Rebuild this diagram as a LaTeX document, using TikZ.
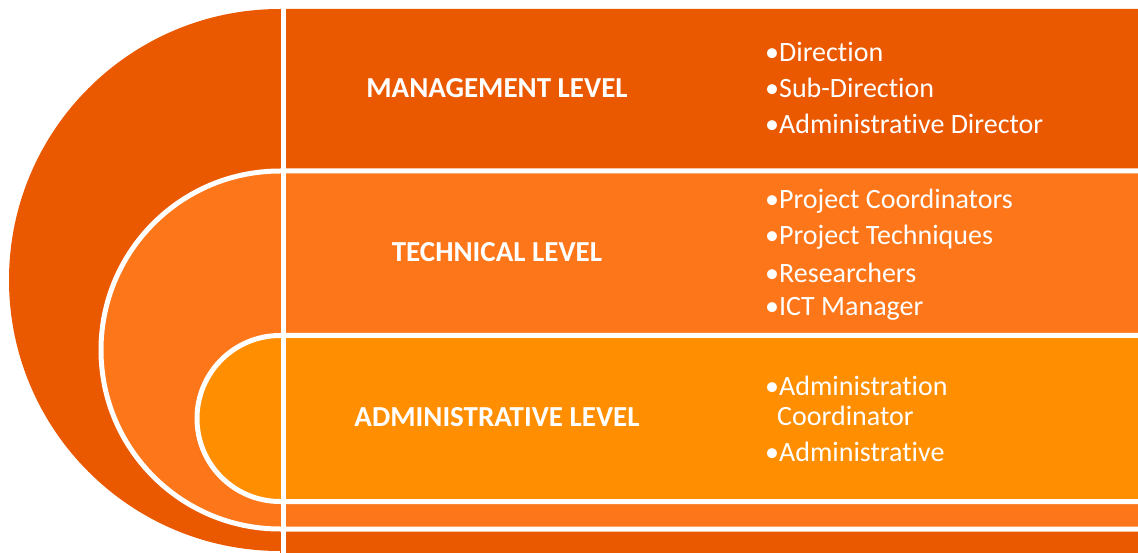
\documentclass[tikz,border=0pt]{standalone}
\usepackage{fontspec}
\setmainfont{Carlito}[Ligatures={NoCommon,NoRare,NoContextual}, RawFeature={-liga;-dlig;-calt}]
\usepackage{tikz}
\usepackage{xcolor}
\definecolor{lvldark}{HTML}{EA5800}
\definecolor{lvlmid}{HTML}{FD761A}
\definecolor{lvllight}{HTML}{FF8E00}

\begin{document}
\begin{tikzpicture}[x=1pt, y=1pt,
  title/.style={font=\fontsize{29}{34}\selectfont\bfseries, text=white},
  item/.style={font=\fontsize{28}{34}\selectfont, text=white, anchor=west, inner sep=0pt},
  band/.style={draw=white, line width=5pt}]
  \useasboundingbox (0,0) rectangle (1138,552);
  \clip (0,0) rectangle (1138,552);
  % the three nested levels
  \fill[lvldark] (1140,543) -- (280,543) arc[start angle=90, end angle=270, radius=271] -- (280,-2) -- (1140,-2) -- cycle;
  \filldraw[lvlmid, band] (1145,381) -- (280,381) arc[start angle=90, end angle=270, radius=179] -- (1145,23) -- cycle;
  \filldraw[lvllight, band] (1145,216.5) -- (280,216.5) arc[start angle=90, end angle=270, radius=83] -- (1145,50.5) -- cycle;
  \draw[white, line width=5pt] (283,-2) -- (283,552);
  % level names
  \node[title] (mgmt) at (497,464) {MANAGEMENT LEVEL};
  \node[title] (tech) at (497,300) {TECHNICAL LEVEL};
  \node[title] (admin) at (497,135) {ADMINISTRATIVE LEVEL};
  % members
  \node[item] (m1) at (765,500) {•Direction};
  \node[item] (m2) at (765,464) {•Sub-Direction};
  \node[item] (m3) at (765,428) {•Administrative Director};
  \node[item] (t1) at (765,351) {•Project Coordinators};
  \node[item] (t2) at (765,315) {•Project Techniques};
  \node[item] (t3) at (765,279) {•Researchers};
  \node[item] (t4) at (765,243) {•ICT Manager};
  \node[item] (a1) at (765,166) {•Administration};
  \node[item] (a2) at (777,136) {Coordinator};
  \node[item] (a3) at (765,100) {•Administrative};
\end{tikzpicture}
\end{document}
